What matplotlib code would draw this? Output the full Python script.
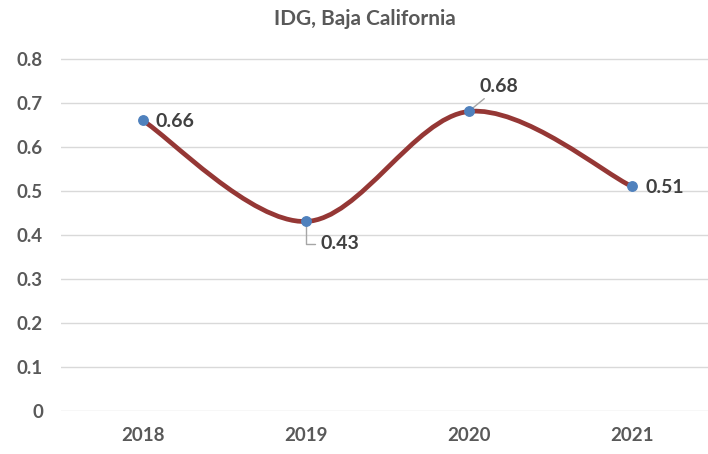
import numpy as np
import matplotlib
matplotlib.use('Agg')
from matplotlib import pyplot as plt
from matplotlib.path import Path
from matplotlib.patches import PathPatch

years = ['2018', '2019', '2020', '2021']
idg = [0.66, 0.43, 0.68, 0.51]
yticks = [0, 0.1, 0.2, 0.3, 0.4, 0.5, 0.6, 0.7, 0.8]

plt.rcParams['font.family'] = ['Lato', 'DejaVu Sans']
text_grey = '#595959'
label_grey = '#404040'


def smooth_path(xs, ys):
    # Excel-like smoothed line: cubic bezier with catmull-rom control points
    pts = np.column_stack([xs, ys]).astype(float)
    ext = np.vstack([pts[0], pts, pts[-1]])
    verts = [tuple(pts[0])]
    codes = [Path.MOVETO]
    for i in range(len(pts) - 1):
        p0, p1, p2, p3 = ext[i], ext[i + 1], ext[i + 2], ext[i + 3]
        c1 = p1 + (p2 - p0) / 6.0
        c2 = p2 - (p3 - p1) / 6.0
        verts += [tuple(c1), tuple(c2), tuple(p2)]
        codes += [Path.CURVE4] * 3
    return Path(verts, codes)


fig = plt.figure(figsize=(7.08, 4.54), dpi=100)
ax = fig.add_axes([0.0862, 0.0954, 0.921, 0.7947])

x = np.arange(len(years))
ax.set_xlim(-0.5, len(years) - 0.5)
ax.set_ylim(0, 0.82)

ax.set_yticks(yticks)
ax.set_yticklabels(['0' if v == 0 else '{:.1f}'.format(v) for v in yticks])
ax.set_xticks(x)
ax.set_xticklabels(years)
ax.grid(axis='y', color='#D9D9D9', linewidth=1.0)
ax.set_axisbelow(True)
for s in ax.spines.values():
    s.set_visible(False)
ax.tick_params(axis='both', length=0, labelsize=13.5, labelcolor=text_grey)
ax.tick_params(axis='y', pad=13)
ax.tick_params(axis='x', pad=12)
for lab in ax.get_xticklabels() + ax.get_yticklabels():
    lab.set_fontweight('bold')

patch = PathPatch(smooth_path(x, idg), facecolor='none', edgecolor='#953735',
                  linewidth=3.4, capstyle='round', zorder=3)
ax.add_patch(patch)
ax.plot(x, idg, linestyle='none', marker='o', markersize=6.8,
        color='#4F81BD', zorder=4)

lab_kw = dict(fontsize=14, fontweight='bold', color=label_grey)
# 2018 and 2021: label to the right
ax.annotate('{:.2f}'.format(idg[0]), (x[0], idg[0]), xytext=(9, -1),
            textcoords='offset points', va='center', ha='left', **lab_kw)
ax.annotate('{:.2f}'.format(idg[3]), (x[3], idg[3]), xytext=(10, -1),
            textcoords='offset points', va='center', ha='left', **lab_kw)
# 2019: below right with elbow leader
ax.annotate('{:.2f}'.format(idg[1]), (x[1], idg[1]), xytext=(11, -16),
            textcoords='offset points', va='center', ha='left',
            arrowprops=dict(arrowstyle='-', color='#A6A6A6', lw=1.0,
                            connectionstyle='angle,angleA=0,angleB=90,rad=0',
                            shrinkA=2, shrinkB=0),
            **lab_kw)
# 2020: above right with straight leader
ax.annotate('{:.2f}'.format(idg[2]), (x[2], idg[2]), xytext=(22, 18),
            textcoords='offset points', va='center', ha='center',
            arrowprops=dict(arrowstyle='-', color='#A6A6A6', lw=1.0,
                            shrinkA=1, shrinkB=0),
            **lab_kw)

fig.text(0.516, 0.958, 'IDG, Baja California', ha='center', va='center',
         fontsize=15, fontweight='bold', color=text_grey)

fig.savefig('out.png', dpi=100)
